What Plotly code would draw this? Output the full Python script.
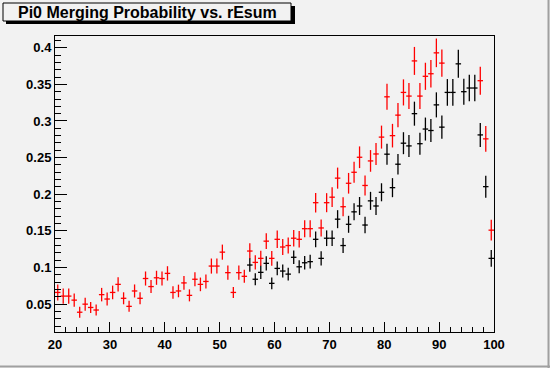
import plotly.graph_objects as go

bin_centers = [20.5 + i for i in range(80)]

red_vals = [0.066, 0.061, 0.061, 0.0555, 0.039, 0.050, 0.0455, 0.042, 0.063, 0.057,
            0.066, 0.077, 0.058, 0.047, 0.068, 0.058, 0.085, 0.074, 0.086, 0.085,
            0.092, 0.066, 0.068, 0.079, 0.062, 0.084, 0.077, 0.081, 0.102, 0.102,
            0.121, 0.093, 0.066, 0.093, 0.088, 0.1225, 0.107, 0.1125, 0.136, 0.1125,
            0.1385, 0.128, 0.130, 0.140, 0.1385, 0.153, 0.153, 0.1885, 0.154, 0.1885,
            0.196, 0.222, 0.183, 0.215, 0.230, 0.2505, 0.212, 0.2455, 0.255, 0.278,
            0.333, 0.280, 0.308, 0.339, 0.334, 0.382, 0.334, 0.361, 0.3645, 0.393,
            0.379, None, None, None, None, None, None, 0.355, 0.2756, 0.151]
red_errs = [0.0109, 0.0105, 0.0103, 0.0092, 0.0075, 0.0089, 0.0075, 0.0075, 0.0092, 0.0089,
            0.0093, 0.0096, 0.0082, 0.0075, 0.0089, 0.0082, 0.0096, 0.0089, 0.0096, 0.0096,
            0.0098, 0.0085, 0.0086, 0.0093, 0.0082, 0.0096, 0.0093, 0.0096, 0.0103, 0.0103,
            0.0103, 0.0096, 0.0075, 0.0096, 0.0089, 0.0105, 0.0098, 0.0103, 0.0107, 0.0100,
            0.0119, 0.0109, 0.0109, 0.0112, 0.0112, 0.0116, 0.0116, 0.0133, 0.0116, 0.0130,
            0.0134, 0.0144, 0.0130, 0.0141, 0.0144, 0.0148, 0.0137, 0.0148, 0.0150, 0.0157,
            0.0178, 0.0161, 0.0167, 0.0178, 0.0178, 0.0191, 0.0178, 0.0185, 0.0187, 0.0195,
            0.0187, None, None, None, None, None, None, 0.0191, 0.0175, 0.0141]

black_vals = [None] * 35 + [
            0.1034, 0.084, 0.0934, 0.1057, 0.0784, 0.0988, 0.0952, 0.091, 0.114, 0.101,
            0.1065, 0.108, 0.1385, 0.1125, 0.140, 0.140, 0.166, 0.130, 0.159, 0.176,
            0.184, 0.158, 0.191, 0.184, 0.2027, 0.2547, 0.209, 0.241, 0.2697, 0.266,
            0.310, 0.269, 0.289, 0.287, 0.322, 0.2916, 0.339, 0.339, 0.378, 0.340,
            0.345, 0.345, 0.281, 0.2104, 0.1125]
black_errs = [None] * 35 + [
            0.0092, 0.0082, 0.0089, 0.0096, 0.0079, 0.0093, 0.0089, 0.0086, 0.0093, 0.0089,
            0.0092, 0.0093, 0.0107, 0.0096, 0.0107, 0.0107, 0.0123, 0.0103, 0.0116, 0.0116,
            0.0123, 0.0113, 0.0123, 0.0123, 0.0123, 0.0144, 0.0130, 0.0141, 0.0150, 0.0150,
            0.0164, 0.0150, 0.0157, 0.0157, 0.0171, 0.0160, 0.0182, 0.0182, 0.0191, 0.0178,
            0.0182, 0.0182, 0.0164, 0.0150, 0.0113]

half_bin = [0.5] * 80

title_text = "Pi0 Merging Probability vs. rEsum"
x_range = [20, 100]
y_range = [0.012, 0.416]

fig = go.Figure()
for vals, errs, col in [(red_vals, red_errs, "#ff0000"), (black_vals, black_errs, "#000000")]:
    fig.add_trace(go.Scatter(
        x=bin_centers, y=vals, mode="markers",
        marker=dict(size=1, color=col),
        error_y=dict(type="data", array=errs, color=col, thickness=1.3, width=0, visible=True),
        error_x=dict(type="data", array=half_bin, color=col, thickness=1.3, width=0, visible=True),
        showlegend=False, cliponaxis=True,
    ))

bg = "#f2f2f2"
axis_font = dict(family="Liberation Sans, Arial, sans-serif", size=13, color="black", weight="bold")

fig.update_layout(
    width=550, height=368,
    margin=dict(l=55, r=56, t=36, b=36),
    paper_bgcolor=bg, plot_bgcolor=bg,
    xaxis=dict(range=x_range, dtick=10, tick0=20, ticks="inside", ticklen=10, tickwidth=1,
               tickcolor="black", showline=True, linecolor="black", linewidth=1, mirror=True,
               showgrid=False, zeroline=False, tickfont=axis_font,
               minor=dict(dtick=2, ticks="inside", ticklen=5, tickcolor="black", showgrid=False)),
    yaxis=dict(range=y_range, dtick=0.05, tick0=0, ticks="inside", ticklen=12, tickwidth=1,
               tickcolor="black", showline=True, linecolor="black", linewidth=1, mirror=True,
               showgrid=False, zeroline=False, tickfont=axis_font,
               minor=dict(dtick=0.01, ticks="inside", ticklen=6, tickcolor="black", showgrid=False)),
)

# pixel -> paper helpers for decoration
def px_x(p):
    return (p - 55) / (550 - 55 - 56)

def px_y(p):
    return (368 - 36 - p) / (368 - 36 - 36)

# title box shadow and box
fig.add_shape(type="rect", xref="paper", yref="paper",
              x0=px_x(6), x1=px_x(295), y0=px_y(24), y1=px_y(6),
              fillcolor="black", line=dict(width=0), layer="above")
fig.add_shape(type="rect", xref="paper", yref="paper",
              x0=px_x(3), x1=px_x(291), y0=px_y(21), y1=px_y(3),
              fillcolor=bg, line=dict(color="black", width=1), layer="above")
fig.add_annotation(xref="paper", yref="paper", x=px_x(147), y=px_y(12.5),
                   text=title_text, showarrow=False, xanchor="center", yanchor="middle",
                   font=dict(family="Liberation Sans, Arial, sans-serif", size=16, color="black", weight="bold"))

# canvas border (dark edge on right and bottom)
fig.add_shape(type="line", xref="paper", yref="paper",
              x0=px_x(548.5), x1=px_x(548.5), y0=px_y(368), y1=px_y(0),
              line=dict(color="#a0a0a0", width=2))
fig.add_shape(type="line", xref="paper", yref="paper",
              x0=px_x(0), x1=px_x(550), y0=px_y(366.5), y1=px_y(366.5),
              line=dict(color="#a0a0a0", width=2))

fig.write_html("out.html",
               config={"displayModeBar": False},
               post_script="document.body.style.margin='0';document.body.style.overflow='hidden';")
